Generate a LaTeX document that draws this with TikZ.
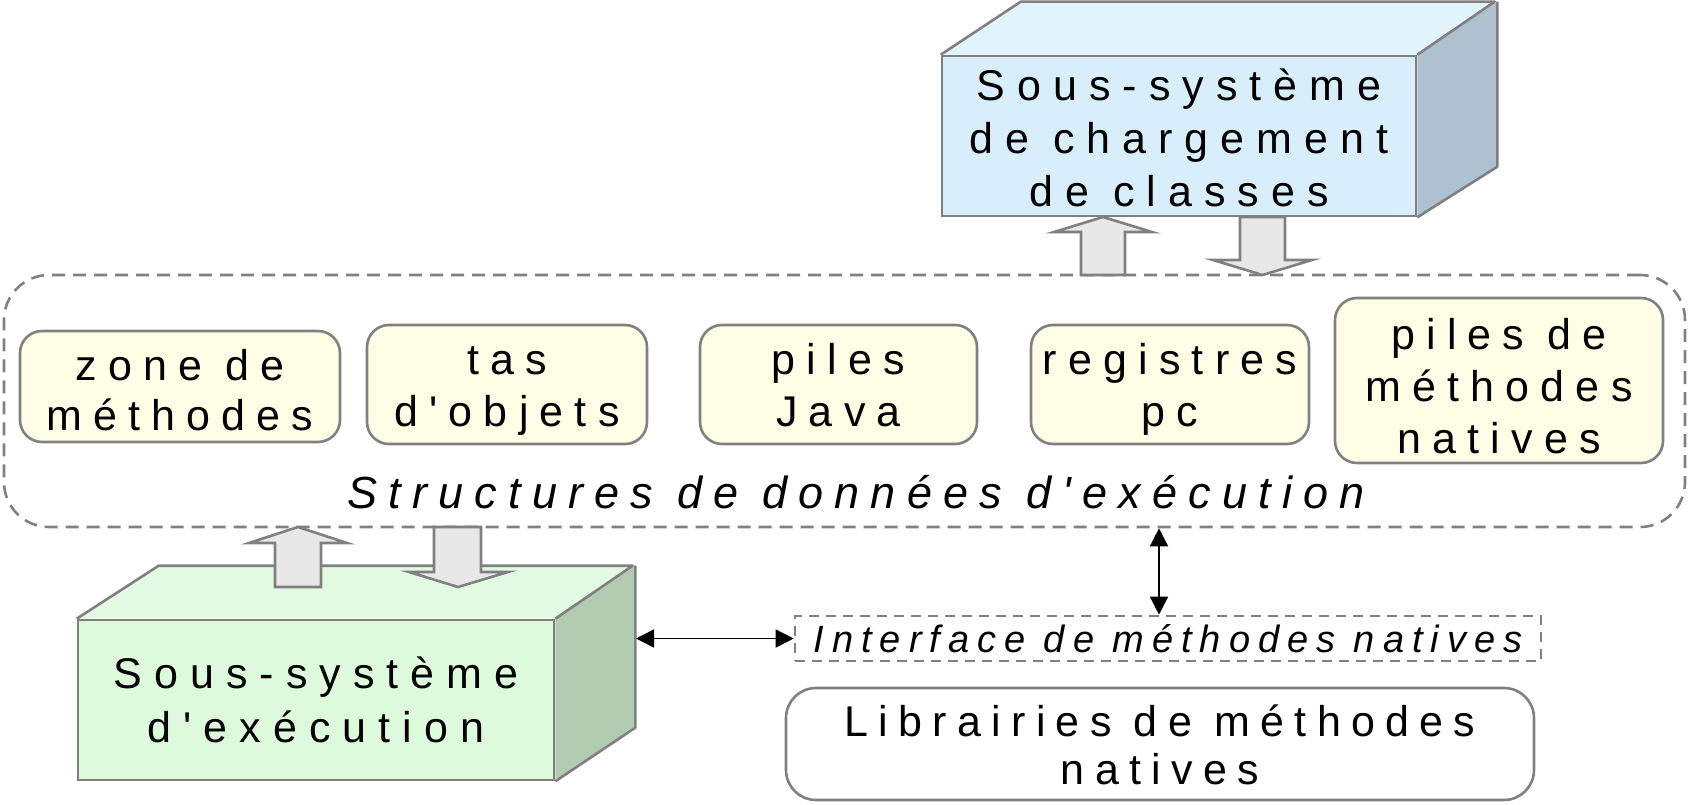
\documentclass[tikz,border=0pt]{standalone}
\usepackage{fontspec}
\setmainfont{Liberation Sans}
\newfontfamily\spA[LetterSpace=28]{Liberation Sans}
\newfontfamily\spC[LetterSpace=26]{Liberation Sans}
\newfontfamily\spB[LetterSpace=24]{Liberation Sans}
\newfontfamily\spI[LetterSpace=25]{Liberation Sans}
\newfontfamily\spJ[LetterSpace=21]{Liberation Sans}
\usetikzlibrary{arrows.meta}
\definecolor{bordergray}{HTML}{808080}
\definecolor{bluefront}{HTML}{D8EEFB}
\definecolor{bluetop}{HTML}{E1F3FD}
\definecolor{blueside}{HTML}{ADC1CE}
\definecolor{greenfront}{HTML}{DDFADD}
\definecolor{greentop}{HTML}{E3FBE3}
\definecolor{greenside}{HTML}{B1CCB1}
\definecolor{yellowfill}{HTML}{FEFEE6}
\definecolor{arrowfill}{HTML}{E8E8E8}
% invisible struts fixing first-line height and last-line depth
\newcommand{\topstrut}[1]{\rule{0pt}{#1}}
\newcommand{\botstrut}[1]{\rule[-#1]{0pt}{#1}}
\begin{document}
\begin{tikzpicture}[x=1pt,y=-1pt,
  frontface/.style={draw=bordergray,line width=2.6pt,inner sep=0pt,align=center,
    font=\spA\fontsize{43}{53}\selectfont},
  facepath/.style={draw=bordergray,line width=2.6pt,line join=round},
  ybox/.style={draw=bordergray,fill=yellowfill,line width=2.6pt,rounded corners=22pt,
    inner sep=0pt,align=center,font=\spC\fontsize{43}{52}\selectfont},
  container/.style={draw=bordergray,line width=2.6pt,dash pattern=on 13pt off 8pt,
    rounded corners=45pt,inner sep=0pt},
  blockarrow/.style={draw=bordergray,fill=arrowfill,line width=2.6pt,line join=miter},
  thinarrow/.style={draw=black,line width=1.5pt,{Triangle[length=18pt,width=18pt]}-{Triangle[length=18pt,width=18pt]}}
]
\useasboundingbox (0,0) rectangle (1688,805);

% runtime data area
\node[container,minimum width=1681pt,minimum height=252pt] (rt) at (844.5,401) {};
\node[anchor=base,inner sep=0pt,font=\spI\itshape\fontsize{45}{50}\selectfont] (rtlabel) at (856,508)
  {Structures de données d'exécution};

\node[ybox,minimum width=320pt,minimum height=111pt,font=\spC\fontsize{43}{50}\selectfont] (zone) at (180,386.5)
  {\topstrut{47pt}zone de\\méthodes\botstrut{10pt}};
\node[ybox,minimum width=280pt,minimum height=119pt] (tas) at (507,384.5)
  {\topstrut{41pt}tas\\d'objets\botstrut{10pt}};
\node[ybox,minimum width=277pt,minimum height=119pt] (piles) at (838.5,384.5)
  {\topstrut{41pt}piles\\Java\botstrut{10pt}};
\node[ybox,minimum width=278pt,minimum height=119pt] (reg) at (1170,384.5)
  {\topstrut{41pt}registres\\pc\botstrut{10pt}};
\node[ybox,minimum width=328pt,minimum height=165pt] (pilesnat) at (1499,380.5) {};
\node[inner sep=0pt,align=center,font=\spC\fontsize{43}{52}\selectfont] (pilesnattext) at (1499,391)
  {\topstrut{36pt}piles de\\méthodes\\natives\botstrut{15pt}};

% class loader subsystem (3D box)
\node[frontface,fill=bluefront,minimum width=474pt,minimum height=160pt] (loader) at (1179,136)
  {\topstrut{36pt}Sous-système\\de chargement\\de classes};
\fill[bluetop] (loader.north west) -- ++(80,-53) -- ++(474,0) -- (loader.north east) -- cycle;
\fill[blueside] (loader.north east) -- ++(80,-53) -- ++(0,165) -- (loader.south east) -- cycle;
\draw[facepath] (loader.north west) -- ++(80,-53) -- ++(474,0) -- (loader.north east);
\draw[facepath] (loader.north east) ++(80,-53) -- ++(0,165) -- (loader.south east);

% execution engine (3D box)
\node[frontface,fill=greenfront,minimum width=476pt,minimum height=160pt,font=\spA\fontsize{43}{54}\selectfont] (exec) at (316,700)
  {\topstrut{40pt}Sous-système\\d'exécution\botstrut{10pt}};
\fill[greentop] (exec.north west) -- ++(82,-53) -- ++(474,0) -- (exec.north east) -- cycle;
\fill[greenside] (exec.north east) -- ++(80,-53) -- ++(0,162) -- (exec.south east) -- cycle;
\draw[facepath] (exec.north west) -- ++(82,-53) -- ++(474,0) -- (exec.north east);
\draw[facepath] (exec.north east) ++(80,-53) -- ++(0,162) -- (exec.south east);

% native interface and libraries
\node[draw=bordergray,line width=2.6pt,dash pattern=on 10pt off 7pt,inner sep=0pt,
  minimum width=746pt,minimum height=45pt,font=\spJ\itshape\fontsize{38}{40}\selectfont] (jni) at (1168,638.5)
  {Interface de méthodes natives};
\node[draw=bordergray,line width=2.6pt,rounded corners=30pt,inner sep=0pt,align=center,
  minimum width=748pt,minimum height=112pt,font=\spB\fontsize{43}{48}\selectfont] (libs) at (1160,744)
  {\topstrut{42pt}Librairies de méthodes\\natives\botstrut{10pt}};

% block arrows between loader and data area
\draw[blockarrow] (1081,275) -- (1081,232) -- (1054,232) -- (1103,217) -- (1152,232) -- (1125,232) -- (1125,275) -- cycle;
\draw[blockarrow] (1240,217) -- (1240,260) -- (1213,260) -- (1262.5,275) -- (1312,260) -- (1285,260) -- (1285,217) -- cycle;
% block arrows between data area and execution engine
\draw[blockarrow] (275,587) -- (275,543) -- (249,543) -- (298,527) -- (347,543) -- (321,543) -- (321,587) -- cycle;
\draw[blockarrow] (434,527) -- (434,572) -- (409,572) -- (458,587) -- (508,572) -- (481,572) -- (481,527) -- cycle;

% thin double arrows
\coordinate (gside) at (636,635);
\coordinate (vx) at (1159,0);
\draw[thinarrow] (gside |- jni.west) -- (jni.west);
\draw[thinarrow] (rt.south -| vx) -- (jni.north -| vx);
\end{tikzpicture}
\end{document}
